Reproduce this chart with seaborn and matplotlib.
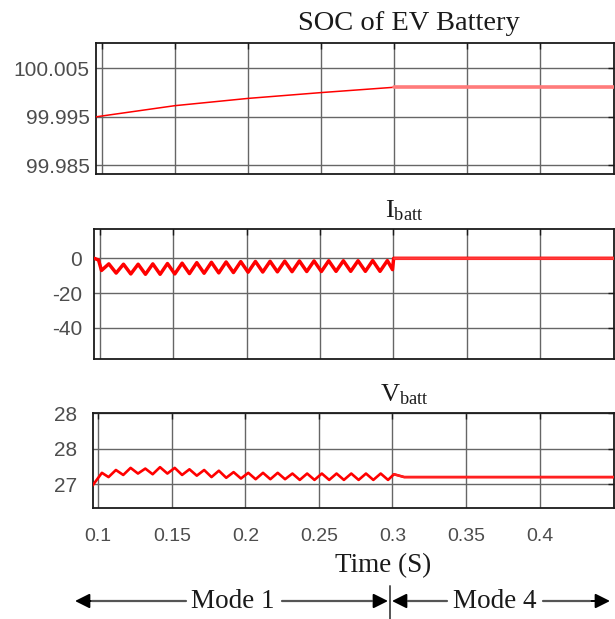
import numpy as np
import pandas as pd
import matplotlib
matplotlib.use("Agg")
import matplotlib.pyplot as plt
import seaborn as sns
from matplotlib.patches import FancyArrowPatch
from matplotlib.lines import Line2D

# ---------------- data ----------------
x_ticks = [0.1, 0.15, 0.2, 0.25, 0.3, 0.35, 0.4]
x_tick_labels = ["0.1", "0.15", "0.2", "0.25", "0.3", "0.35", "0.4"]
x_limits = [0.0961, 0.4506]
mode_switch = 0.3

soc_time = [0.0961, 0.15, 0.20, 0.25, 0.30, 0.4506]
soc_value = [99.995, 99.9973, 99.9988, 100.0000, 100.0011, 100.0011]
soc_ticks = [99.985, 99.995, 100.005]
soc_tick_labels = ["99.985", "99.995", "100.005"]

ibatt_time = [0.0961, 0.0990,
              0.101, 0.106, 0.111, 0.116, 0.121, 0.126, 0.131, 0.136, 0.141, 0.146,
              0.151, 0.156, 0.161, 0.166, 0.171, 0.176, 0.181, 0.186, 0.191, 0.196,
              0.201, 0.206, 0.211, 0.216, 0.221, 0.226, 0.231, 0.236, 0.241, 0.246,
              0.251, 0.256, 0.261, 0.266, 0.271, 0.276, 0.281, 0.286, 0.291, 0.296,
              0.2995, 0.3003, 0.4506]
ibatt_value = [0.0, -1.0,
               -7.0, -3.2, -8.5, -3.4, -9.0, -3.4, -9.2, -3.2, -9.2, -3.0,
               -9.0, -2.8, -8.8, -2.5, -8.6, -2.3, -8.4, -2.1, -8.2, -1.9,
               -8.0, -1.8, -7.9, -1.7, -7.8, -1.6, -7.7, -1.5, -7.6, -1.5,
               -7.6, -1.4, -7.5, -1.4, -7.5, -1.4, -7.5, -1.3, -7.5, -1.3,
               -6.5, 0.0, 0.0]
ibatt_ticks = [-40, -20, 0]
ibatt_tick_labels = ["-40", "-20", "0"]
ibatt_limits = [-58.2, 16.9]

vbatt_time = [0.0961, 0.1025, 0.107,
              0.112, 0.117, 0.122, 0.127, 0.132, 0.137, 0.142, 0.147, 0.152, 0.157,
              0.162, 0.167, 0.172, 0.177, 0.182, 0.187, 0.192, 0.197, 0.202, 0.207,
              0.212, 0.217, 0.222, 0.227, 0.232, 0.237, 0.242, 0.247, 0.252, 0.257,
              0.262, 0.267, 0.272, 0.277, 0.282, 0.287, 0.292, 0.297,
              0.3010, 0.3080, 0.4506]
vbatt_value = [26.98, 27.16, 27.10,
               27.20, 27.13, 27.23, 27.15, 27.22, 27.14, 27.24, 27.15, 27.23, 27.13,
               27.21, 27.12, 27.20, 27.10, 27.19, 27.09, 27.17, 27.08, 27.16, 27.07,
               27.16, 27.07, 27.16, 27.07, 27.15, 27.06, 27.15, 27.06, 27.15, 27.06,
               27.15, 27.06, 27.15, 27.06, 27.15, 27.06, 27.15, 27.06,
               27.14, 27.10, 27.10]
vbatt_ticks = [27, 27.5, 28]
vbatt_tick_labels = ["27", "28", "28"]
vbatt_limits = [26.668, 28.0]

# ---------------- style ----------------
sns.set_theme(style="white")
plt.rcParams["font.family"] = ["Liberation Sans", "DejaVu Sans"]
plt.rcParams["mathtext.fontset"] = "custom"
plt.rcParams["mathtext.rm"] = "Liberation Serif"
plt.rcParams["mathtext.it"] = "Liberation Serif:italic"

W, H = 615, 619
fig = plt.figure(figsize=(W / 100, H / 100), dpi=100)


def rect(l, t, r, b):
    return [l / W, 1 - b / H, (r - l) / W, (b - t) / H]


def fpos(x, y):
    return (x / W, 1 - y / H)


ax1 = fig.add_axes(rect(96, 42.7, 614, 174))
ax2 = fig.add_axes(rect(94.3, 229, 614, 359.3))
ax3 = fig.add_axes(rect(92.5, 413.3, 614, 507.7))

RED = "#ff0000"


def draw(ax, t, v, lw1, lw2, col2):
    df = pd.DataFrame({"t": t, "v": v})
    sns.lineplot(data=df, x="t", y="v", ax=ax, color=RED, linewidth=lw1,
                 sort=False, estimator=None, zorder=3,
                 solid_joinstyle="round", solid_capstyle="round")
    d4 = df[df["t"] >= mode_switch]
    sns.lineplot(data=d4, x="t", y="v", ax=ax, color=col2, linewidth=lw2,
                 sort=False, estimator=None, zorder=4)


draw(ax1, soc_time, soc_value, 1.1, 2.6, "#ff7b7b")
draw(ax2, ibatt_time, ibatt_value, 2.5, 1.8, "#ff3b3b")
draw(ax3, vbatt_time, vbatt_value, 1.9, 1.6, "#ff2020")

ax1.set_ylim(99.9832, 100.0103)
ax1.set_yticks(soc_ticks, soc_tick_labels)
ax2.set_ylim(*ibatt_limits)
ax2.set_yticks(ibatt_ticks, ibatt_tick_labels)
ax3.set_ylim(*vbatt_limits)
ax3.set_yticks(vbatt_ticks, vbatt_tick_labels)

for ax, ypad in ((ax1, 4.6), (ax2, 8.8), (ax3, 11.0)):
    ax.set_xlim(*x_limits)
    ax.set_xticks(x_ticks)
    ax.set_xlabel("")
    ax.set_ylabel("")
    ax.grid(True, color="#666666", linewidth=1.0)
    for s in ax.spines.values():
        s.set_color("#1a1a1a")
        s.set_linewidth(1.3)
        s.set_visible(True)
    ax.tick_params(axis="both", direction="in", length=4, width=1.0,
                   top=True, right=True, colors="#1a1a1a",
                   labelcolor="#4d4d4d")
    ax.tick_params(axis="y", labelsize=15, pad=ypad)
    ax.set_facecolor("white")

ax1.set_xticklabels([])
ax2.set_xticklabels([])
ax3.set_xticklabels(x_tick_labels)
ax3.tick_params(axis="x", labelsize=14, pad=14.5)

# titles
serif = ["Liberation Serif", "DejaVu Serif"]
fig.text(*fpos(409, 30), "SOC of EV Battery", ha="center", va="baseline",
         fontsize=20.5, family=serif, color="#1a1a1a")
fig.text(*fpos(404, 217), r"$\mathrm{I}_{\mathrm{batt}}$", ha="center",
         va="baseline", fontsize=19, color="#1a1a1a")
fig.text(*fpos(404, 401), r"$\mathrm{V}_{\mathrm{batt}}$", ha="center",
         va="baseline", fontsize=19, color="#1a1a1a")
fig.text(*fpos(383, 566), "Time (S)", ha="center", va="center",
         fontsize=19.5, family=serif, color="#1a1a1a")

# mode arrows
ya = 601


def gline(x0, x1):
    fig.add_artist(Line2D([x0 / W, x1 / W], [1 - ya / H, 1 - ya / H],
                          color="#555555", lw=1.6))


def head(x_from, x_to):
    fig.add_artist(FancyArrowPatch(fpos(x_from, ya), fpos(x_to, ya),
                                   transform=fig.transFigure,
                                   arrowstyle="-|>", mutation_scale=22,
                                   color="black", lw=1.4,
                                   shrinkA=0, shrinkB=0))


gline(92, 186)
gline(282, 372)
gline(408, 447)
gline(543, 590)
head(96, 75)
head(368, 388)
head(410, 392)
head(588, 610)
fig.add_artist(Line2D([390 / W, 390 / W], [1 - 586 / H, 1 - 619 / H],
                      color="#555555", lw=1.4))
fig.text(*fpos(233, ya), "Mode 1", ha="center", va="center",
         fontsize=19.5, family=serif, color="#1a1a1a")
fig.text(*fpos(495, ya), "Mode 4", ha="center", va="center",
         fontsize=19.5, family=serif, color="#1a1a1a")

fig.savefig("out.png", dpi=100)
